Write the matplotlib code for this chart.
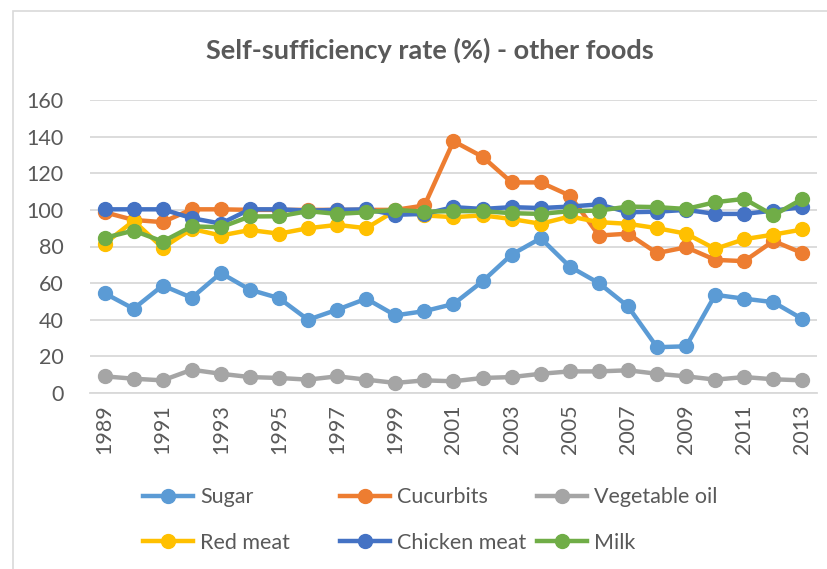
import matplotlib
matplotlib.use("Agg")
import matplotlib.pyplot as plt
from matplotlib.lines import Line2D
from matplotlib.patches import Rectangle

plt.rcParams['font.family'] = ['Lato', 'DejaVu Sans']

years = list(range(1989, 2014))
sugar = [54.5, 46, 58.7, 52, 65.5, 56.4, 51.8, 40, 45.5, 51.5, 42.4, 44.7, 48.6,
         61, 75.6, 84.5, 69, 60, 47.3, 25, 25.5, 53.6, 51.5, 49.6, 40.4]
cucurbits = [98.7, 94.5, 93.3, 100.3, 100.3, 100, 100, 100, 100, 100, 100, 102.4, 137.5,
             129, 115, 115, 107.8, 86, 87, 76.4, 79.6, 72.7, 72, 83, 76.4]
veg_oil = [9.1, 7.8, 6.9, 12.7, 10.5, 8.7, 8.2, 7.3, 9.1, 7.3, 5.5, 6.9, 6.4,
           8.2, 8.7, 10.5, 11.8, 11.8, 12.4, 10.5, 9.1, 7.3, 8.7, 7.5, 6.9]
red_meat = [81.5, 94, 79.3, 89.6, 86, 89, 87, 90, 91.8, 90, 99.6, 97, 96,
            97, 95, 92.4, 96.4, 93.3, 92.4, 90, 87, 78.7, 84, 86.5, 89.3]
chicken = [100.3, 100.3, 100.3, 95.5, 92.5, 100.3, 100.3, 99.6, 100, 100.3, 97.3, 97.8, 101.5,
           100.5, 101.5, 101, 101.8, 103, 98.7, 99, 100, 97.8, 97.8, 99.6, 101.5]
milk = [84.7, 88.7, 82.7, 91, 90.5, 96.4, 96.5, 99.3, 97.8, 98.7, 100, 99, 99.3,
        99.3, 98.2, 97.8, 99.3, 99.6, 101.8, 101.5, 100.5, 104.2, 106, 97, 106]

series_names = ["Sugar", "Cucurbits", "Vegetable oil", "Red meat", "Chicken meat", "Milk"]
series_values = [sugar, cucurbits, veg_oil, red_meat, chicken, milk]
colors = ["#5B9BD5", "#ED7D31", "#A5A5A5", "#FFC000", "#4472C4", "#70AD47"]
y_ticks = [0, 20, 40, 60, 80, 100, 120, 140, 160]
x_tick_labels = [str(y) for y in years[::2]]

W, H = 828, 569
fig = plt.figure(figsize=(W / 100, H / 100), dpi=100)
fig.patch.set_facecolor("white")

# outer chart border
fig.patches.append(Rectangle((13 / W, -0.05), 1.1, 1 - 11 / H + 0.05,
                             transform=fig.transFigure, fill=False,
                             edgecolor="#D9D9D9", linewidth=1.2))

ax = fig.add_axes([90 / W, 1 - 393 / H, (817 - 90) / W, (393 - 100) / H])
for name, vals, c in zip(series_names, series_values, colors):
    ax.plot(years, vals, color=c, linewidth=3.2, marker="o", markersize=10,
            solid_capstyle="round", solid_joinstyle="round", label=name, zorder=3)

ax.set_xlim(1988.5, 2013.5)
ax.set_ylim(0, 160)
ax.set_yticks(y_ticks)
ax.set_xticks(years[::2])
ax.set_xticklabels(x_tick_labels, rotation=90)
ax.yaxis.grid(True, color="#D9D9D9", linewidth=1.3)
ax.set_axisbelow(True)
for s in ["top", "right", "left"]:
    ax.spines[s].set_visible(False)
ax.spines["bottom"].set_color("#D9D9D9")
ax.spines["bottom"].set_linewidth(1.3)
ax.tick_params(axis="both", length=0, labelsize=15.5, colors="#595959")
ax.tick_params(axis="y", pad=19)
ax.tick_params(axis="x", pad=8)

fig.text(430 / W, 1 - 50 / H, "Self-sufficiency rate (%) - other foods",
         ha="center", va="center", fontsize=19.5, fontweight="bold", color="#595959")

# legend: three columns, filled row by row
col_x = [143, 340, 537]
for ci in range(3):
    idx = [ci, ci + 3]
    hs = [Line2D([0], [0], color=colors[i], linewidth=3.2, marker="o", markersize=10)
          for i in idx]
    leg = fig.legend(hs, [series_names[i] for i in idx], loc="center left",
                     bbox_to_anchor=(col_x[ci] / W, 1 - 520 / H), frameon=False,
                     fontsize=15.5, handlelength=2.3, handletextpad=0.37,
                     labelspacing=1.18, borderpad=0, borderaxespad=0)
    for t in leg.get_texts():
        t.set_color("#595959")

fig.savefig("out.png", dpi=100, facecolor="white")
